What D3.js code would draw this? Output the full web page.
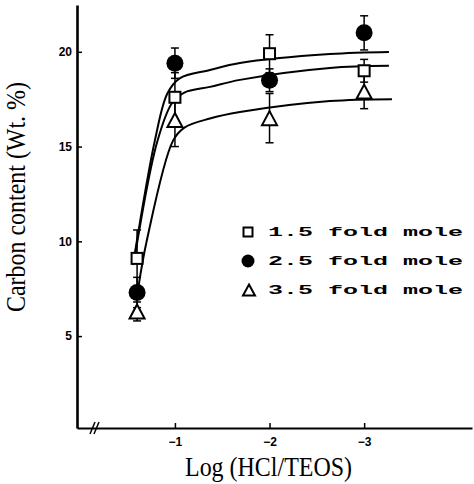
<!DOCTYPE html>
<html>
<head>
<meta charset="utf-8">
<script src="https://cdn.jsdelivr.net/npm/d3@7"></script>
<style>
  body { margin: 0; background: #fff; }
  svg { display: block; }
</style>
</head>
<body>
<script>
(function(){

    //series names and x positions (log HCl/TEOS)
    var seriesNames = ["1.5 fold mole", "2.5 fold mole", "3.5 fold mole"];
    var xValues = [-0.6, -1, -2, -3];

    //carbon content (wt %) for each series
    var squareValues = [9.1, 17.6, 19.9, 19.0];
    var circleValues = [7.3, 19.4, 18.5, 21.0];
    var triangleValues = [6.3, 16.4, 16.5, 17.9];

    //error bar half widths
    var squareErr = [1.5, 1.3, 1.0, 0.6];
    var circleErr = [0.8, 0.8, 0.6, 0.9];
    var triangleErr = [0.5, 1.4, 1.3, 0.9];

    //fitted curves
    var curveTopX = [-0.556, -0.789, -0.92, -1.05, -1.37, -1.687, -2.638, -3.262];
    var curveTopY = [8.75, 15.34, 17.8, 18.6, 19.04, 19.41, 19.88, 19.99];
    var curveMidX = [-0.567, -0.81, -0.97, -1.1, -1.37, -1.687, -2.638, -3.262];
    var curveMidY = [8.91, 15.2, 17.3, 17.85, 18.15, 18.52, 19.15, 19.26];
    var curveLowX = [-0.609, -0.704, -0.979, -1.1, -1.37, -1.687, -2.638, -3.294];
    var curveLowY = [7.43, 10.07, 15.3, 16.0, 16.48, 16.82, 17.4, 17.5];

    //tick values and labels
    var yTicks = [5, 10, 15, 20];
    var xTicks = [-1, -2, -3];
    var xTickLabels = ["\u22121", "\u22122", "\u22123"];

    var width = 474, height = 484;

    var svg = d3.select("body")
        .append("svg")
        .attr("width", width)
        .attr("height", height);

    //scales
    var x = d3.scaleLinear()
        .domain([0.035, -4.14])
        .range([77, 472]);
    var y = d3.scaleLinear()
        .domain([0.15, 22.47])
        .range([428, 5]);

    //y axis, ticks pointing inward
    var yAxis = svg.append("g")
        .attr("transform", "translate(" + x.range()[0] + ",0)")
        .call(d3.axisLeft(y).tickValues(yTicks).tickSizeInner(-5).tickSizeOuter(0).tickPadding(5));
    yAxis.select(".domain").attr("stroke-width", 2.6);
    yAxis.selectAll(".tick line").attr("stroke-width", 1.5);
    yAxis.selectAll(".tick text")
        .attr("font-family", "Liberation Sans, Arial, sans-serif")
        .attr("font-weight", "bold")
        .attr("font-size", 12)
        .attr("fill", "#000");

    //x axis
    var xAxis = svg.append("g")
        .attr("transform", "translate(0," + y.range()[0] + ")")
        .call(d3.axisBottom(x).tickValues(xTicks)
            .tickFormat(function(d, i){ return xTickLabels[i]; })
            .tickSizeInner(-5).tickSizeOuter(0).tickPadding(9));
    xAxis.select(".domain").attr("stroke-width", 2);
    xAxis.selectAll(".tick line").attr("stroke-width", 1.5);
    xAxis.selectAll(".tick text")
        .attr("font-family", "Liberation Sans, Arial, sans-serif")
        .attr("font-weight", "bold")
        .attr("font-size", 12)
        .attr("fill", "#000");

    //axis break mark
    [0, 4].forEach(function(o){
        svg.append("line")
            .attr("x1", 90 + o).attr("y1", 434)
            .attr("x2", 95 + o).attr("y2", 422)
            .attr("stroke", "#000")
            .attr("stroke-width", 1.5);
    });

    //axis titles
    svg.append("text")
        .attr("transform", "translate(185,476) scale(1,1.18)")
        .attr("font-family", "Liberation Serif, Times New Roman, serif")
        .attr("font-size", 23)
        .attr("textLength", 167)
        .attr("lengthAdjust", "spacingAndGlyphs")
        .text("Log (HCl/TEOS)");

    svg.append("text")
        .attr("transform", "translate(25,197) rotate(-90) scale(1,1.15)")
        .attr("text-anchor", "middle")
        .attr("font-family", "Liberation Serif, Times New Roman, serif")
        .attr("font-size", 23)
        .attr("textLength", 230)
        .attr("lengthAdjust", "spacingAndGlyphs")
        .text("Carbon content (Wt. %)");

    //curves
    var line = d3.line()
        .x(function(d){ return x(d[0]); })
        .y(function(d){ return y(d[1]); })
        .curve(d3.curveCatmullRom.alpha(0.5));

    [[curveTopX, curveTopY], [curveMidX, curveMidY], [curveLowX, curveLowY]].forEach(function(c){
        svg.append("path")
            .datum(d3.zip(c[0], c[1]))
            .attr("d", line)
            .attr("fill", "none")
            .attr("stroke", "#000")
            .attr("stroke-width", 2);
    });

    //error bars
    function errorBars(vals, errs){
        var g = svg.append("g")
            .attr("stroke", "#000")
            .attr("stroke-width", 1.5);
        vals.forEach(function(v, i){
            var cx = x(xValues[i]);
            g.append("line")
                .attr("x1", cx).attr("x2", cx)
                .attr("y1", y(v + errs[i])).attr("y2", y(v - errs[i]));
            [v + errs[i], v - errs[i]].forEach(function(e){
                g.append("line")
                    .attr("x1", cx - 4).attr("x2", cx + 4)
                    .attr("y1", y(e)).attr("y2", y(e));
            });
        });
    }
    errorBars(squareValues, squareErr);
    errorBars(circleValues, circleErr);
    errorBars(triangleValues, triangleErr);

    //marker shapes
    function drawSquare(g, cx, cy, s){
        g.append("rect")
            .attr("x", cx - s / 2).attr("y", cy - s / 2)
            .attr("width", s).attr("height", s)
            .attr("fill", "#fff").attr("stroke", "#000").attr("stroke-width", 2);
    }
    function drawCircle(g, cx, cy, r){
        g.append("circle")
            .attr("cx", cx).attr("cy", cy).attr("r", r)
            .attr("fill", "#000");
    }
    function drawTriangle(g, cx, cy, w, h){
        g.append("path")
            .attr("d", "M" + cx + "," + (cy - h / 2) + "L" + (cx + w / 2) + "," + (cy + h / 2) + "L" + (cx - w / 2) + "," + (cy + h / 2) + "Z")
            .attr("fill", "#fff").attr("stroke", "#000").attr("stroke-width", 2);
    }

    var marks = svg.append("g");
    squareValues.forEach(function(v, i){ drawSquare(marks, x(xValues[i]), y(v), 11); });
    circleValues.forEach(function(v, i){ drawCircle(marks, x(xValues[i]), y(v), 8.5); });
    triangleValues.forEach(function(v, i){ drawTriangle(marks, x(xValues[i]), y(v), 15, 14); });

    //legend
    var legend = svg.append("g");
    var rowY = [232, 261, 290];
    drawSquare(legend, 248, rowY[0], 9);
    drawCircle(legend, 248, rowY[1], 6.5);
    drawTriangle(legend, 249, rowY[2], 12, 11);
    seriesNames.forEach(function(name, i){
        legend.append("text")
            .attr("x", 268)
            .attr("y", rowY[i] + 4)
            .attr("font-family", "Liberation Mono, Courier New, monospace")
            .attr("font-weight", "bold")
            .attr("font-size", 13)
            .attr("textLength", 195)
            .attr("lengthAdjust", "spacingAndGlyphs")
            .text(name);
    });

})();
</script>
</body>
</html>
